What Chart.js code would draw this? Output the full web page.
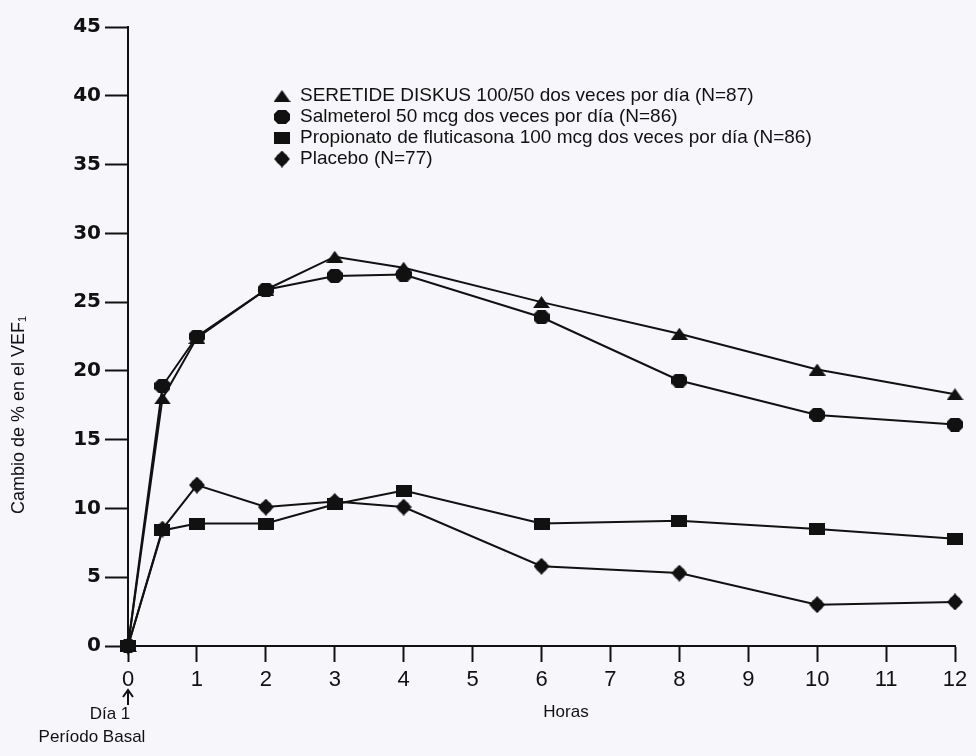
<!DOCTYPE html>
<html>
<head>
<meta charset="utf-8">
<script src="https://cdn.jsdelivr.net/npm/chart.js@4/dist/chart.umd.min.js"></script>
<style>
  html, body { margin: 0; padding: 0; background: #f7f6fb; }
  #wrap { width: 976px; height: 756px; position: relative; }
</style>
</head>
<body>
<div id="wrap"><canvas id="c" width="976" height="756"></canvas></div>
<script>
// Time points (hours after dose) and mean % change in FEV1 for each arm
const hours = [0, 0.5, 1, 2, 3, 4, 6, 8, 10, 12];
const seretide = [0, 18.0, 22.4, 25.9, 28.3, 27.5, 25.0, 22.7, 20.1, 18.3];
const salmeterol = [0, 18.9, 22.5, 25.9, 26.9, 27.0, 23.9, 19.3, 16.8, 16.1];
const fluticasona = [0, 8.4, 8.9, 8.9, 10.3, 11.3, 8.9, 9.1, 8.5, 7.8];
const placebo = [0, 8.5, 11.7, 10.1, 10.5, 10.1, 5.8, 5.3, 3.0, 3.2];

const seriesNames = [
  'SERETIDE DISKUS 100/50 dos veces por día (N=87)',
  'Salmeterol 50 mcg dos veces por día (N=86)',
  'Propionato de fluticasona 100 mcg dos veces por día (N=86)',
  'Placebo (N=77)'
];
const xTicks = [0, 1, 2, 3, 4, 5, 6, 7, 8, 9, 10, 11, 12];
const yTicks = [0, 5, 10, 15, 20, 25, 30, 35, 40, 45];

const INK = '#111111';

// Marker images, drawn once and reused by the lines and the legend
function makeMarker(w, h, draw) {
  const cv = document.createElement('canvas');
  cv.width = w; cv.height = h;
  const g = cv.getContext('2d');
  g.fillStyle = INK;
  draw(g, w, h);
  return cv;
}
const mTriangle = makeMarker(17, 12, (g, w, h) => {
  g.beginPath(); g.moveTo(w / 2, 0); g.lineTo(w, h); g.lineTo(0, h); g.closePath(); g.fill();
});
const mOctagon = makeMarker(16, 14, (g, w, h) => {
  const c = 4;
  g.beginPath();
  g.moveTo(c, 0); g.lineTo(w - c, 0); g.lineTo(w, c); g.lineTo(w, h - c);
  g.lineTo(w - c, h); g.lineTo(c, h); g.lineTo(0, h - c); g.lineTo(0, c);
  g.closePath(); g.fill();
});
const mSquare = makeMarker(16, 12, (g, w, h) => { g.fillRect(0, 0, w, h); });
const mCross = makeMarker(16, 17, (g, w, h) => {
  g.beginPath();
  g.moveTo(w / 2, 0); g.lineTo(w, h / 2); g.lineTo(w / 2, h); g.lineTo(0, h / 2); g.closePath(); g.fill();
  g.beginPath(); g.arc(w / 2, h / 2, 6, 0, Math.PI * 2); g.fill();
});
const markers = [mTriangle, mOctagon, mSquare, mCross];

function toPoints(vals) { return hours.map((h, i) => ({ x: h, y: vals[i] })); }

const datasets = [seretide, salmeterol, fluticasona, placebo].map((vals, i) => ({
  label: seriesNames[i],
  data: toPoints(vals),
  borderColor: INK,
  borderWidth: 2,
  pointStyle: markers[i],
  pointRadius: 7,
  pointHoverRadius: 7,
  tension: 0,
  fill: false,
  clip: false
}));

// Legend, axis titles and baseline note drawn at fixed spots on the canvas
const annotations = {
  id: 'annotations',
  afterDraw(chart) {
    const ctx = chart.ctx;
    ctx.save();
    ctx.fillStyle = INK;
    ctx.textBaseline = 'middle';
    ctx.textAlign = 'left';
    ctx.font = '19px "Liberation Sans", Arial, sans-serif';
    const rows = [96, 117, 138, 159];
    seriesNames.forEach((name, i) => {
      const m = markers[i];
      ctx.drawImage(m, 282 - m.width / 2, rows[i] - m.height / 2);
      ctx.fillText(name, 300, rows[i]);
    });

    ctx.font = '17px "Liberation Sans", Arial, sans-serif';
    ctx.textAlign = 'center';
    ctx.fillText('Horas', 566, 712);
    ctx.fillText('Día 1', 110, 714);
    ctx.fillText('Período Basal', 92, 737);

    // small arrow pointing at the baseline tick
    ctx.strokeStyle = INK;
    ctx.lineWidth = 2;
    ctx.beginPath();
    ctx.moveTo(128, 705); ctx.lineTo(128, 690);
    ctx.moveTo(123, 697); ctx.lineTo(128, 690); ctx.lineTo(133, 697);
    ctx.stroke();

    ctx.translate(19, 415);
    ctx.rotate(-Math.PI / 2);
    ctx.font = '18px "Liberation Sans", Arial, sans-serif';
    ctx.fillText('Cambio de % en el VEF\u2081', 0, 0);
    ctx.restore();
  }
};

new Chart(document.getElementById('c'), {
  type: 'line',
  data: { datasets },
  options: {
    responsive: false,
    animation: false,
    events: [],
    layout: { padding: { top: 27, right: 21, left: 0, bottom: 0 } },
    plugins: { legend: { display: false }, tooltip: { enabled: false } },
    scales: {
      x: {
        type: 'linear',
        min: 0, max: 12,
        afterBuildTicks: (s) => { s.ticks = xTicks.map(v => ({ value: v })); },
        afterFit: (s) => { s.height = 110; },
        grid: { drawOnChartArea: false, drawTicks: true, tickLength: 16, tickWidth: 2, tickColor: INK },
        border: { display: true, color: INK, width: 2 },
        ticks: {
          color: INK, padding: 5,
          font: { family: '"Liberation Sans", Arial, sans-serif', size: 22 }
        }
      },
      y: {
        type: 'linear',
        min: 0, max: 45,
        afterBuildTicks: (s) => { s.ticks = yTicks.map(v => ({ value: v })); },
        afterFit: (s) => { s.width = 128; },
        grid: { drawOnChartArea: false, drawTicks: true, tickLength: 23, tickWidth: 2, tickColor: INK },
        border: { display: true, color: INK, width: 2 },
        ticks: {
          color: INK, padding: 4,
          font: { family: '"DejaVu Sans", sans-serif', size: 20, weight: 'bold' }
        }
      }
    }
  },
  plugins: [annotations]
});
</script>
</body>
</html>
